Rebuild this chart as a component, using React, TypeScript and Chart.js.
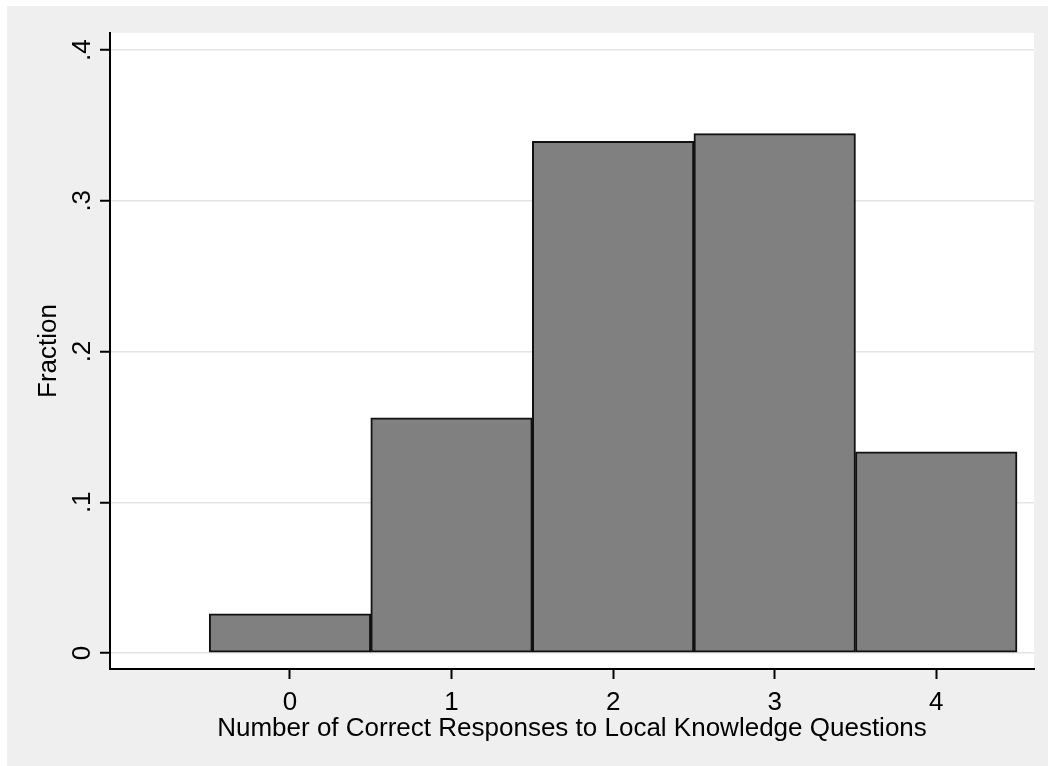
import React, { useEffect, useRef } from "react";
import { Chart, registerables } from "chart.js";

Chart.register(...registerables);

const categories = [0, 1, 2, 3, 4];
const fractions = [0.026, 0.156, 0.3395, 0.3445, 0.1335];
const yTicks = [0, 0.1, 0.2, 0.3, 0.4];
const yTickLabels = ["0", ".1", ".2", ".3", ".4"];
const xTicks = [0, 1, 2, 3, 4];
const xTitle = "Number of Correct Responses to Local Knowledge Questions";
const yTitle = "Fraction";

const FONT = "'Liberation Sans', Arial, sans-serif";
const FS = 26;

const plotBg = {
  id: "plotBg",
  beforeDraw(chart: any) {
    const { ctx, chartArea } = chart;
    ctx.save();
    ctx.fillStyle = "#ffffff";
    ctx.fillRect(chartArea.left, chartArea.top, chartArea.right - chartArea.left, chartArea.bottom - chartArea.top);
    ctx.restore();
  },
};

const yLabels = {
  id: "yLabels",
  afterDraw(chart: any) {
    const { ctx } = chart;
    const ys = chart.scales.y;
    ctx.save();
    ctx.fillStyle = "#000";
    ctx.font = `${FS}px ${FONT}`;
    ctx.textAlign = "center";
    ctx.textBaseline = "alphabetic";
    yTicks.forEach((v, i) => {
      const py = ys.getPixelForValue(v);
      ctx.save();
      ctx.translate(83, py);
      ctx.rotate(-Math.PI / 2);
      ctx.fillText(yTickLabels[i], 0, 0);
      ctx.restore();
    });
    ctx.restore();
  },
};

export default function App() {
  const ref = useRef<HTMLCanvasElement>(null);
  useEffect(() => {
    if (!ref.current) return;
    const chart = new Chart(ref.current, {
      type: "bar",
      data: {
        datasets: [
          {
            data: categories.map((c, i) => ({ x: c, y: fractions[i] })),
            backgroundColor: "#808080",
            borderColor: "#111111",
            borderWidth: 2,
            borderSkipped: false,
            barPercentage: 1,
            categoryPercentage: 1,
          },
        ],
      },
      plugins: [plotBg, yLabels],
      options: {
        animation: false,
        responsive: false,
        layout: { padding: { top: 27, right: 14, left: 0, bottom: 0 } },
        plugins: { legend: { display: false }, tooltip: { enabled: false } },
        scales: {
          x: {
            type: "linear",
            offset: false,
            min: -1.114,
            max: 4.605,
            afterBuildTicks: (s: any) => {
              s.ticks = xTicks.map((v) => ({ value: v }));
            },
            afterFit: (s: any) => {
              s.height = 97;
            },
            ticks: {
              color: "#000",
              font: { family: FONT, size: FS },
              padding: 8,
              callback: (v: any) => String(v),
              maxRotation: 0,
            },
            grid: {
              offset: false,
              drawOnChartArea: false,
              drawTicks: true,
              tickLength: 10,
              tickColor: "#000",
              tickWidth: 2,
            },
            border: { color: "#000", width: 2 },
            title: {
              display: true,
              text: xTitle,
              color: "#000",
              font: { family: FONT, size: FS },
              padding: { top: 0, bottom: 21.5 },
            },
          },
          y: {
            type: "linear",
            min: -0.0106,
            max: 0.4113,
            afterBuildTicks: (s: any) => {
              s.ticks = yTicks.map((v) => ({ value: v }));
            },
            afterFit: (s: any) => {
              s.width = 103;
            },
            ticks: { display: false },
            grid: {
              color: "#e4e4e4",
              lineWidth: 1.5,
              drawTicks: true,
              tickLength: 10,
              tickColor: "#000",
              tickWidth: 2,
            },
            border: { color: "#000", width: 2 },
            title: {
              display: true,
              text: yTitle,
              color: "#000",
              font: { family: FONT, size: FS },
              padding: { top: 26.5, bottom: 0 },
            },
          },
        },
      },
    });
    return () => chart.destroy();
  }, []);
  return (
    <div
      style={{
        position: "fixed",
        left: 7,
        top: 6,
        width: 1100,
        height: 800,
        background: "#efefef",
      }}
    >
      <canvas ref={ref} width={1041} height={760} style={{ display: "block" }} />
    </div>
  );
}
